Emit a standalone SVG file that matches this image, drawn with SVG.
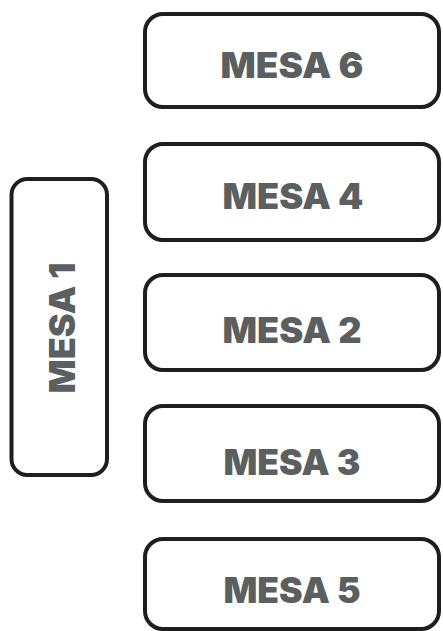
<svg xmlns="http://www.w3.org/2000/svg" width="443" height="631" viewBox="0 0 443 631">
<style>
.box{fill:#ffffff;stroke:#1e1e1e;stroke-width:4}
.lbl{font-family:Inter,"Open Sans","Liberation Sans",sans-serif;font-weight:900;font-size:35px;fill:#5b5f5f;text-anchor:middle}
</style>
<rect width="443" height="631" fill="#ffffff"/>
<g id="mesa6"><rect class="box" x="145" y="14" width="294" height="93" rx="18"/><text class="lbl" x="292" y="78" textLength="143" lengthAdjust="spacingAndGlyphs">MESA 6</text></g>
<g id="mesa4"><rect class="box" x="145" y="144" width="294" height="96" rx="18"/><text class="lbl" x="293" y="209" textLength="141" lengthAdjust="spacingAndGlyphs">MESA 4</text></g>
<g id="mesa2"><rect class="box" x="145" y="275" width="294" height="95" rx="18"/><text class="lbl" x="292" y="343" textLength="139" lengthAdjust="spacingAndGlyphs">MESA 2</text></g>
<g id="mesa3"><rect class="box" x="145" y="406" width="294" height="95" rx="18"/><text class="lbl" x="292" y="475" textLength="137" lengthAdjust="spacingAndGlyphs">MESA 3</text></g>
<g id="mesa5"><rect class="box" x="145" y="539" width="294" height="90" rx="18"/><text class="lbl" x="292" y="603" textLength="137" lengthAdjust="spacingAndGlyphs">MESA 5</text></g>
<g id="mesa1"><rect class="box" x="11.5" y="179" width="95.5" height="296" rx="16"/><text class="lbl" transform="translate(75,328) rotate(-90)" x="0" y="0" textLength="131" lengthAdjust="spacingAndGlyphs">MESA 1</text></g>
<g id="connectors"></g>
</svg>
